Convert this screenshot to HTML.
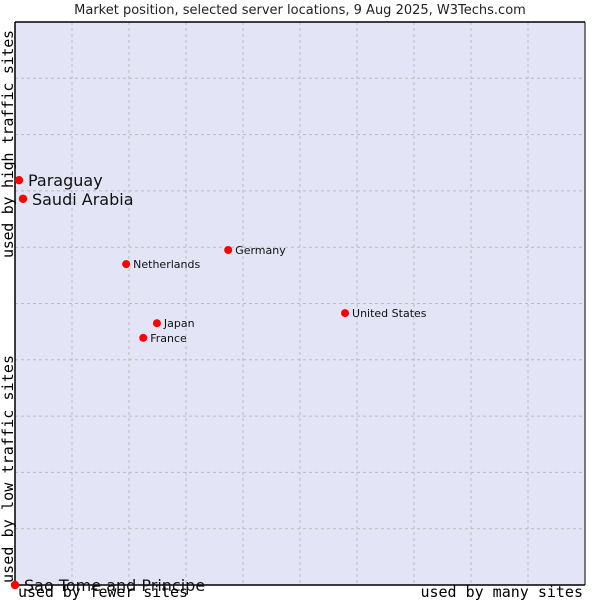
<!DOCTYPE html>
<html><head><meta charset="utf-8"><style>
body{margin:0;background:#fff;width:600px;height:600px;overflow:hidden}
svg{font-family:"DejaVu Sans","Liberation Sans",sans-serif}
.mono{font-family:"DejaVu Sans Mono","Liberation Mono",monospace}
</style></head><body>
<svg id="chart" width="600" height="600">
<text x="300" y="14" text-anchor="middle" font-size="13" fill="#222">Market position, selected server locations, 9 Aug 2025, W3Techs.com</text>
<rect x="15" y="22" width="570" height="563" fill="#e3e5f7"/>
<g id="grid"></g>
<line x1="15" y1="22" x2="585" y2="22" stroke="#000" stroke-width="1.5"/>
<line x1="585" y1="22" x2="585" y2="585" stroke="#000" stroke-width="1"/>
<line x1="15" y1="22" x2="15" y2="585" stroke="#000" stroke-width="1.5"/>
<line x1="15" y1="585" x2="585" y2="585" stroke="#000" stroke-width="1.5"/>
<g id="points"></g>
<text class="mono" x="18" y="597" font-size="15" textLength="170">used by fewer sites</text>
<text class="mono" x="583" y="597" font-size="15" text-anchor="end">used by many sites</text>
<text class="mono" transform="translate(13,583) rotate(-90)" font-size="15" textLength="228">used by low traffic sites</text>
<text class="mono" transform="translate(13,258) rotate(-90)" font-size="15" textLength="228">used by high traffic sites</text>
</svg>
<script>
const names=["Paraguay","Saudi Arabia","Germany","Netherlands","United States","Japan","France","Sao Tome and Principe"];
const xVals=[0.7,1.4,37.4,19.5,57.9,24.9,22.5,0];
const yVals=[71.9,68.6,59.5,57.0,48.3,46.5,43.9,0];
const big=[true,true,false,false,false,false,false,true];
const X=v=>15+v*5.7, Y=v=>585-v*5.63;
const NS="http://www.w3.org/2000/svg";
const grid=document.getElementById('grid'), pts=document.getElementById('points');
for(let i=1;i<10;i++){
 const l=document.createElementNS(NS,'line');
 l.setAttribute('x1',X(i*10));l.setAttribute('x2',X(i*10));l.setAttribute('y1',22);l.setAttribute('y2',585);
 l.setAttribute('stroke','#bbb');l.setAttribute('stroke-dasharray','3,3');
 
 
 grid.appendChild(l);
 const h=document.createElementNS(NS,'line');
 h.setAttribute('y1',Y(i*10));h.setAttribute('y2',Y(i*10));h.setAttribute('x1',15);h.setAttribute('x2',585);
 h.setAttribute('stroke','#bbb');h.setAttribute('stroke-dasharray','3,3');
 
 
 grid.appendChild(h);
}
names.forEach((n,i)=>{
 const cx=X(xVals[i]), cy=Y(yVals[i]);
 const c=document.createElementNS(NS,'circle');
 c.setAttribute('cx',cx);c.setAttribute('cy',cy);c.setAttribute('r',big[i]?4.2:4);c.setAttribute('fill','#f00');
 
 
 pts.appendChild(c);
 const t=document.createElementNS(NS,'text');
 t.setAttribute('x',cx+(big[i]?9:7));t.setAttribute('y',cy+(big[i]?6:4));
 t.setAttribute('font-size',big[i]?16:11);t.setAttribute('fill','#111');
 t.textContent=n;
 
 
 pts.appendChild(t);
});
</script>
</body></html>
